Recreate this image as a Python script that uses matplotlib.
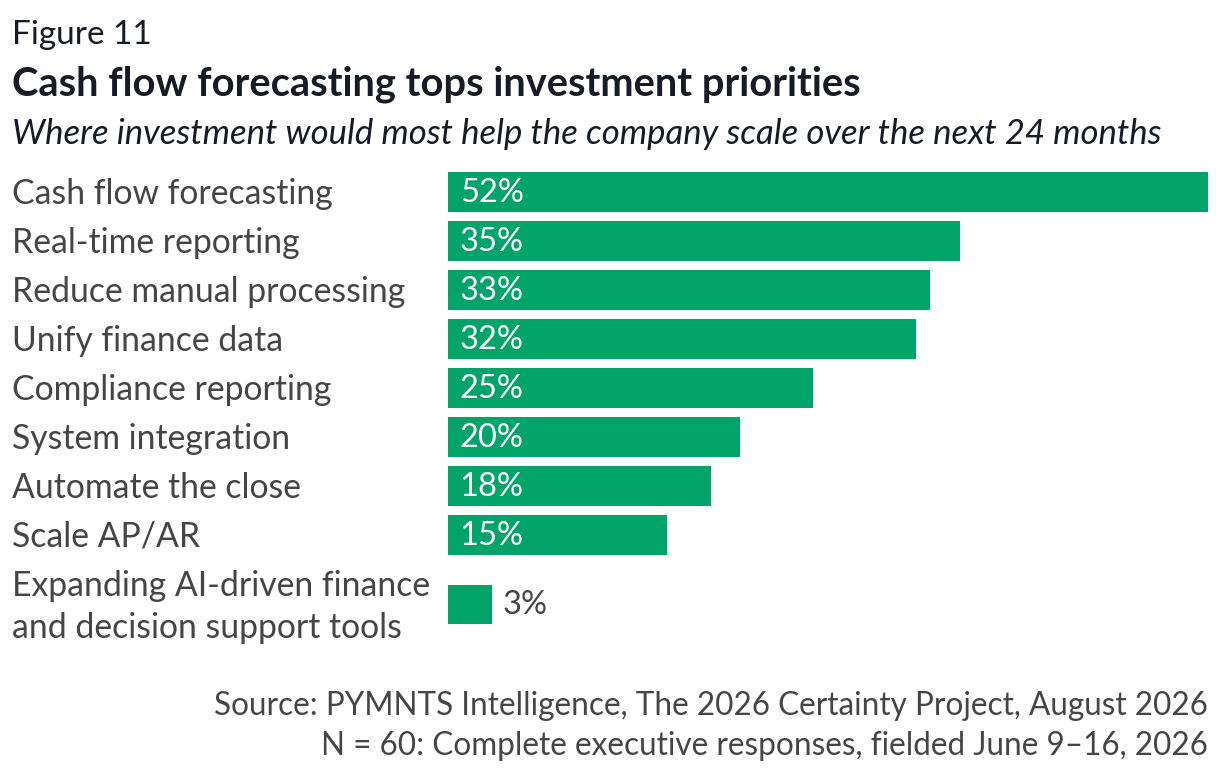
import matplotlib.pyplot as plt

plt.rcParams['font.family'] = ['Lato', 'DejaVu Sans']

categories = ["Cash flow forecasting", "Real-time reporting", "Reduce manual processing",
              "Unify finance data", "Compliance reporting", "System integration",
              "Automate the close", "Scale AP/AR",
              "Expanding AI-driven finance\nand decision support tools"]
values = [52, 35, 33, 32, 25, 20, 18, 15, 3]

GREEN = "#00a368"
DARK = "#161b26"
GRAY = "#454545"

W, H = 1220, 772
fig = plt.figure(figsize=(W / 100, H / 100), dpi=100)

# axes in pixel terms: bars start at x=448, 52% reaches x=1208
top, bottom = 172, 624
ax = fig.add_axes([448 / W, (H - bottom) / H, (1208 - 448) / W, (bottom - top) / H])
ax.set_xlim(0, max(values))
ax.set_ylim(bottom - top, 0)
ax.axis("off")

step, extra, bh = 49, 21, 40
y = 20
ys = []
for i, c in enumerate(categories):
    if i > 0 and "\n" in c:
        y += extra
    ys.append(y)
    y += step

ax.barh(ys, values, height=bh, color=GREEN)
for yy, v, c in zip(ys, values, categories):
    if v >= 10:
        ax.text(0.8, yy + 1, f"{v}%", color="white", fontsize=23.5, va="center", ha="left")
    else:
        ax.text(v + 0.75, yy, f"{v}%", color=GRAY, fontsize=23.5, va="center", ha="left")
    fig.text(12 / W, 1 - (top + yy + 2) / H, c, color=GRAY, fontsize=24.3, va="center",
             ha="left", linespacing=1.4)

fig.text(12 / W, 1 - 35 / H, "Figure 11", color=DARK, fontsize=24, va="center")
fig.text(12 / W, 1 - 84 / H, "Cash flow forecasting tops investment priorities",
         color=DARK, fontsize=28.7, fontweight="bold", va="center")
fig.text(12 / W, 1 - 134 / H,
         "Where investment would most help the company scale over the next 24 months",
         color=DARK, fontsize=25, style="italic", va="center")

fig.text(1208 / W, 1 - 706 / H,
         "Source: PYMNTS Intelligence, The 2026 Certainty Project, August 2026",
         color=GRAY, fontsize=22.7, ha="right", va="center")
fig.text(1208 / W, 1 - 746 / H,
         "N = 60: Complete executive responses, fielded June 9\u201316, 2026",
         color=GRAY, fontsize=22.7, ha="right", va="center")

fig.savefig("out.png", dpi=100)
